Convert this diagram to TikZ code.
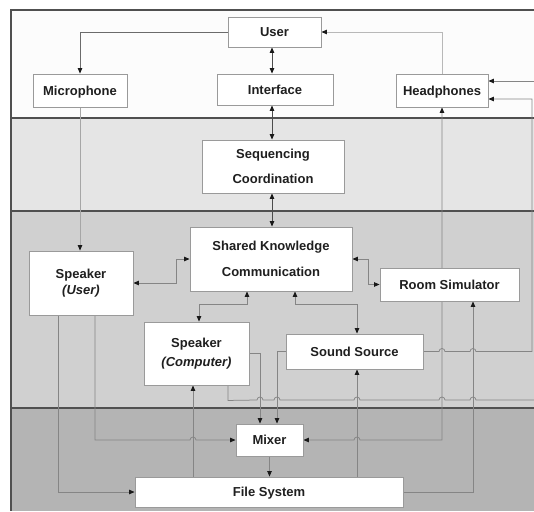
\documentclass[tikz,border=0pt]{standalone}
\usepackage{fontspec}
\setmainfont{Liberation Sans}
\usetikzlibrary{arrows.meta}
\pgfdeclarelayer{bands}
\pgfdeclarelayer{wires}
\pgfsetlayers{bands,wires,main}
\definecolor{bandA}{HTML}{FCFCFC}
\definecolor{bandB}{HTML}{E5E5E5}
\definecolor{bandC}{HTML}{D0D0D0}
\definecolor{bandD}{HTML}{B4B4B4}
\definecolor{sepC}{HTML}{505050}
\definecolor{wireC}{HTML}{858585}
\definecolor{boxline}{HTML}{9A9A9A}
\begin{document}
\begin{tikzpicture}[x=1pt,y=-1pt,
  box/.style={draw=boxline,line width=0.9pt,fill=white,inner sep=0pt,align=center,
    text=black!88,font=\fontsize{13}{15.6}\selectfont\bfseries},
  oneline/.style={text height=9.4pt,text depth=0pt},
  wire/.style={draw=wireC,line width=0.75pt},
  tipend/.style={-{Triangle[length=5.5pt,width=4.5pt,color=black!90]}},
  tipboth/.style={{Triangle[length=5.5pt,width=4.5pt,color=black!90]}-{Triangle[length=5.5pt,width=4.5pt,color=black!90]}},
  bump/.style={insert path={arc[start angle=180,end angle=0,radius=3pt]}},
  sepline/.style={draw=sepC,line width=1.3pt}]
\useasboundingbox (0,0) rectangle (534,511);

% boxes
\node[box,oneline,minimum width=93pt,minimum height=30pt] (user) at (274.5,32) {User};
\node[box,oneline,minimum width=94pt,minimum height=33pt] (mic) at (80,90.5) {Microphone};
\node[box,oneline,minimum width=116pt,minimum height=31pt] (iface) at (275,89.5) {Interface};
\node[box,oneline,minimum width=92pt,minimum height=33pt] (hp) at (442,90.5) {Headphones};
\node[box,minimum width=142pt,minimum height=53pt] (seq) at (273,166.5) {Sequencing\\[10pt]Coordination};
\node[box,minimum width=162pt,minimum height=64pt] (shared) at (271,259) {Shared Knowledge\\[11pt]Communication};
\node[box,minimum width=104pt,minimum height=64pt] (spku) at (81,283) {Speaker\\[1pt]\textit{(User)}};
\node[box,oneline,minimum width=139pt,minimum height=33pt] (room) at (449.5,284.5) {Room Simulator};
\node[box,minimum width=105pt,minimum height=63pt] (spkc) at (196.5,353.5) {Speaker\\[3pt]\textit{(Computer)}};
\node[box,oneline,minimum width=137pt,minimum height=35pt] (sound) at (354.5,351.5) {Sound Source};
\node[box,oneline,minimum width=67pt,minimum height=32pt] (mixer) at (269.5,440) {Mixer};
\node[box,oneline,minimum width=268pt,minimum height=30pt] (files) at (269,492) {File System};
\coordinate (spine) at (272,0);
\coordinate (edgeA) at (534,81);
\coordinate (edgeB) at (534,400);

\begin{pgfonlayer}{bands}
\fill[white] (0,0) rectangle (534,511);
\fill[bandA] (11,10) rectangle (534,118);
\fill[bandB] (11,118) rectangle (534,211);
\fill[bandC] (11,211) rectangle (534,408);
\fill[bandD] (11,408) rectangle (534,511);
\draw[sepline] (534,10) -- (11,10) -- (11,511);
\draw[sepline] (11,118) -- (534,118);
\draw[sepline] (11,211) -- (534,211);
\draw[sepline] (11,408) -- (534,408);
\end{pgfonlayer}

\begin{pgfonlayer}{wires}
% top band
\draw[wire,draw=black!58,tipend] (user.west) -| (mic.north);
\draw[wire,draw=black!28,tipend] (hp.north) |- (user.east);
\draw[wire,draw=black!70,tipboth] (user.south -| spine) -- (iface.north -| spine);
\draw[wire,draw=black!70,tipboth] (iface.south -| spine) -- (seq.north -| spine);
\draw[wire,draw=black!70,tipboth] (seq.south -| spine) -- (shared.north -| spine);
\draw[wire,draw=black!35,tipend] (mic.south) -- (mic.south |- spku.north);
% shared knowledge
\draw[wire,tipboth] (shared.west) -- ++(-13,0) |- (spku.east);
\draw[wire,tipboth] (shared.east) -- ++(16,0) |- (room.west);
\draw[wire,tipboth] ([xshift=-24pt]shared.south) -- ++(0,13) -| ([xshift=2.5pt]spkc.north);
\draw[wire,tipboth] ([xshift=24pt]shared.south) -- ++(0,13) -| ([xshift=2.5pt]sound.north);
% speaker (user)
\draw[wire,tipend] ([xshift=-23pt]spku.south) |- (files.west);
\draw[wire,tipend] ([xshift=14pt]spku.south) -- ([xshift=14pt]spku.south |- mixer.west)
   -- (190,440) [bump] -- (mixer.west);
% speaker (computer)
\draw[wire,tipend] ([xshift=-3.5pt]spkc.south |- files.north) -- ([xshift=-3.5pt]spkc.south);
\draw[wire,tipend] (spkc.east) -| ([xshift=-9.5pt]mixer.north);
\draw[wire] ([xshift=31.5pt]spkc.south) -- ++(0,15) -- (257,400) [bump] -- (274,400) [bump]
   -- (354,400) [bump] -- (439,400) [bump] -- (470,400) [bump] -- (edgeB);
\draw[wire,tipend] (edgeA) -- ([yshift=9.5pt]hp.east);
% sound source
\draw[wire,tipend] (sound.west) -| ([xshift=7.5pt]mixer.north);
\draw[wire,tipend] (sound.east) -- (439,351.5) [bump] -- (470,351.5) [bump] -- (532,351.5)
   -- (532,99) -- ([yshift=-8.5pt]hp.east);
\draw[wire,tipend] ([xshift=2.5pt]sound.south |- files.north) -- ([xshift=2.5pt]sound.south);
% mixer, files, room
\draw[wire,tipboth] (mixer.east) -- (354,440) [bump] -- (hp.south |- mixer.east) -- (hp.south);
\draw[wire,tipend] (files.east) -| ([xshift=23.5pt]room.south);
\draw[wire,tipend] (mixer.south) -- (mixer.south |- files.north);
\end{pgfonlayer}
\end{tikzpicture}
\end{document}
